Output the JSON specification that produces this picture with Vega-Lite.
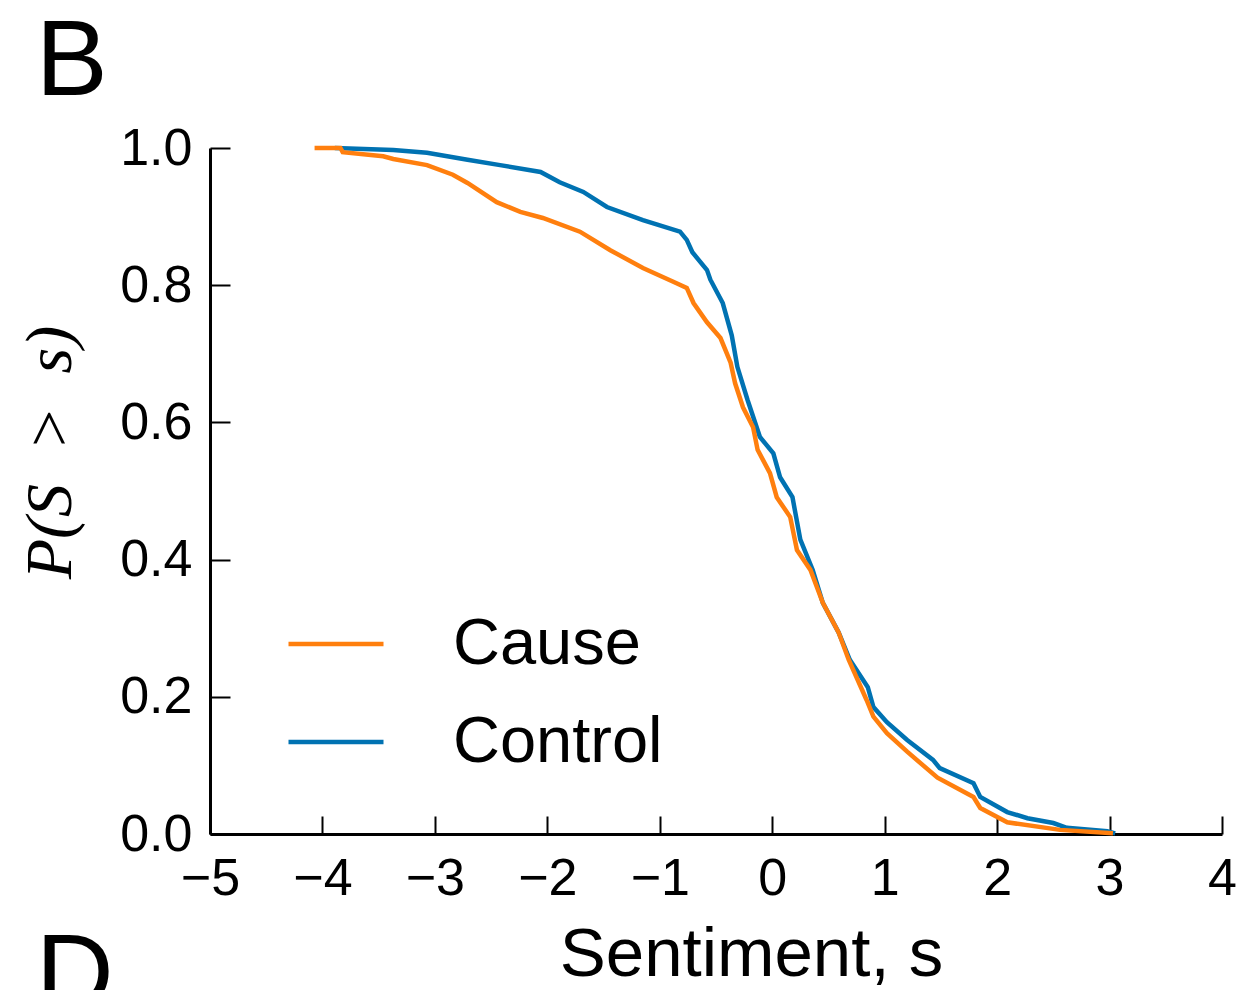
{
  "$schema": "https://vega.github.io/schema/vega-lite/v6.json",
  "autosize": {"type": "none"},
  "width": 1012,
  "height": 686,
  "padding": {"left": 210, "top": 148, "right": 19, "bottom": 156},
  "background": "white",
  "config": {
    "view": {"stroke": null},
    "axis": {"domainColor": "black", "domainWidth": 3, "tickColor": "black", "tickWidth": 2, "labelFont": "Liberation Sans", "labelFontSize": 52, "labelColor": "black", "labelFlush": false, "grid": false, "titleColor": "black", "titleFontWeight": "normal"}
  },
  "datasets": {
    "cdf": [
      {"group": "Cause", "s": -4.07, "p": 1.0},
      {"group": "Cause", "s": -3.84, "p": 1.0},
      {"group": "Cause", "s": -3.82, "p": 0.994},
      {"group": "Cause", "s": -3.46, "p": 0.988},
      {"group": "Cause", "s": -3.37, "p": 0.984},
      {"group": "Cause", "s": -3.07, "p": 0.975},
      {"group": "Cause", "s": -2.84, "p": 0.961},
      {"group": "Cause", "s": -2.71, "p": 0.949},
      {"group": "Cause", "s": -2.45, "p": 0.921},
      {"group": "Cause", "s": -2.24, "p": 0.907},
      {"group": "Cause", "s": -2.04, "p": 0.898},
      {"group": "Cause", "s": -1.71, "p": 0.878},
      {"group": "Cause", "s": -1.44, "p": 0.851},
      {"group": "Cause", "s": -1.15, "p": 0.825},
      {"group": "Cause", "s": -0.88, "p": 0.805},
      {"group": "Cause", "s": -0.76, "p": 0.796},
      {"group": "Cause", "s": -0.70, "p": 0.774},
      {"group": "Cause", "s": -0.58, "p": 0.746},
      {"group": "Cause", "s": -0.46, "p": 0.723},
      {"group": "Cause", "s": -0.37, "p": 0.687},
      {"group": "Cause", "s": -0.33, "p": 0.657},
      {"group": "Cause", "s": -0.26, "p": 0.622},
      {"group": "Cause", "s": -0.17, "p": 0.593},
      {"group": "Cause", "s": -0.13, "p": 0.560},
      {"group": "Cause", "s": -0.02, "p": 0.526},
      {"group": "Cause", "s": 0.04, "p": 0.491},
      {"group": "Cause", "s": 0.16, "p": 0.462},
      {"group": "Cause", "s": 0.22, "p": 0.414},
      {"group": "Cause", "s": 0.34, "p": 0.385},
      {"group": "Cause", "s": 0.45, "p": 0.337},
      {"group": "Cause", "s": 0.59, "p": 0.294},
      {"group": "Cause", "s": 0.68, "p": 0.254},
      {"group": "Cause", "s": 0.84, "p": 0.195},
      {"group": "Cause", "s": 0.90, "p": 0.171},
      {"group": "Cause", "s": 1.02, "p": 0.147},
      {"group": "Cause", "s": 1.20, "p": 0.120},
      {"group": "Cause", "s": 1.47, "p": 0.082},
      {"group": "Cause", "s": 1.79, "p": 0.054},
      {"group": "Cause", "s": 1.85, "p": 0.038},
      {"group": "Cause", "s": 2.09, "p": 0.017},
      {"group": "Cause", "s": 2.56, "p": 0.006},
      {"group": "Cause", "s": 3.03, "p": 0.001},
      {"group": "Control", "s": -3.89, "p": 1.0},
      {"group": "Control", "s": -3.37, "p": 0.997},
      {"group": "Control", "s": -3.07, "p": 0.993},
      {"group": "Control", "s": -2.71, "p": 0.983},
      {"group": "Control", "s": -2.42, "p": 0.975},
      {"group": "Control", "s": -2.06, "p": 0.965},
      {"group": "Control", "s": -1.89, "p": 0.950},
      {"group": "Control", "s": -1.68, "p": 0.936},
      {"group": "Control", "s": -1.47, "p": 0.914},
      {"group": "Control", "s": -1.15, "p": 0.895},
      {"group": "Control", "s": -0.82, "p": 0.878},
      {"group": "Control", "s": -0.76, "p": 0.866},
      {"group": "Control", "s": -0.71, "p": 0.848},
      {"group": "Control", "s": -0.58, "p": 0.822},
      {"group": "Control", "s": -0.55, "p": 0.808},
      {"group": "Control", "s": -0.44, "p": 0.774},
      {"group": "Control", "s": -0.36, "p": 0.727},
      {"group": "Control", "s": -0.31, "p": 0.681},
      {"group": "Control", "s": -0.22, "p": 0.633},
      {"group": "Control", "s": -0.11, "p": 0.579},
      {"group": "Control", "s": 0.01, "p": 0.555},
      {"group": "Control", "s": 0.07, "p": 0.520},
      {"group": "Control", "s": 0.18, "p": 0.491},
      {"group": "Control", "s": 0.25, "p": 0.429},
      {"group": "Control", "s": 0.36, "p": 0.385},
      {"group": "Control", "s": 0.45, "p": 0.337},
      {"group": "Control", "s": 0.59, "p": 0.294},
      {"group": "Control", "s": 0.69, "p": 0.254},
      {"group": "Control", "s": 0.85, "p": 0.214},
      {"group": "Control", "s": 0.90, "p": 0.185},
      {"group": "Control", "s": 1.02, "p": 0.163},
      {"group": "Control", "s": 1.20, "p": 0.137},
      {"group": "Control", "s": 1.43, "p": 0.108},
      {"group": "Control", "s": 1.49, "p": 0.096},
      {"group": "Control", "s": 1.79, "p": 0.074},
      {"group": "Control", "s": 1.85, "p": 0.054},
      {"group": "Control", "s": 2.09, "p": 0.032},
      {"group": "Control", "s": 2.27, "p": 0.023},
      {"group": "Control", "s": 2.50, "p": 0.016},
      {"group": "Control", "s": 2.62, "p": 0.009},
      {"group": "Control", "s": 2.98, "p": 0.004},
      {"group": "Control", "s": 3.05, "p": 0.001}
    ]
  },
  "layer": [
    {
      "data": {"name": "cdf"},
      "transform": [{"filter": "datum.group === 'Control'"}],
      "mark": {"type": "line", "strokeWidth": 4.5, "interpolate": "linear"},
      "encoding": {
        "x": {"field": "s", "type": "quantitative", "scale": {"domain": [-5, 4], "nice": false, "zero": false},
              "axis": {"values": [-5, -4, -3, -2, -1, 0, 1, 2, 3, 4], "format": "d", "tickSize": -18, "labelPadding": 37, "title": "Sentiment, s", "titleFont": "Liberation Sans", "titleFontSize": 69, "titleX": 541, "titleY": 141, "titleBaseline": "alphabetic", "titleAlign": "center"}},
        "y": {"field": "p", "type": "quantitative", "scale": {"domain": [0, 1], "nice": false},
              "axis": {"values": [0, 0.2, 0.4, 0.6, 0.8, 1.0], "format": ".1f", "tickSize": -20, "labelPadding": 38, "title": "P(S\u2002>\u2002s)", "titleFont": "Liberation Serif", "titleFontStyle": "italic", "titleFontSize": 66, "titleX": -160, "titleY": 304, "titleAngle": -90, "titleAlign": "center", "titleBaseline": "middle"}},
        "color": {"field": "group", "type": "nominal", "scale": {"domain": ["Cause", "Control"], "range": ["#ff7f0e", "#0072b2"]},
                  "legend": {"orient": "none", "legendX": 76, "legendY": 446, "title": null, "symbolType": "stroke", "symbolSize": 9025, "symbolStrokeWidth": 4.5, "labelFont": "Liberation Sans", "labelFontSize": 65, "labelColor": "black", "labelLimit": 500, "labelOffset": 67, "rowPadding": 15, "padding": 0}}
      }
    },
    {
      "data": {"name": "cdf"},
      "transform": [{"filter": "datum.group === 'Cause'"}],
      "mark": {"type": "line", "strokeWidth": 4.5, "interpolate": "linear"},
      "encoding": {
        "x": {"field": "s", "type": "quantitative"},
        "y": {"field": "p", "type": "quantitative"},
        "color": {"field": "group", "type": "nominal"}
      }
    },
    {
      "data": {"values": [{"label": "B"}]},
      "mark": {"type": "text", "fontSize": 108, "font": "Liberation Sans", "align": "left", "baseline": "alphabetic", "color": "black"},
      "encoding": {
        "x": {"datum": -6.55, "type": "quantitative"},
        "y": {"datum": 1.077, "type": "quantitative"},
        "text": {"field": "label"}
      }
    },
    {
      "data": {"values": [{"label": "D"}]},
      "mark": {"type": "text", "fontSize": 108, "font": "Liberation Sans", "align": "left", "baseline": "alphabetic", "color": "black"},
      "encoding": {
        "x": {"datum": -6.55, "type": "quantitative"},
        "y": {"datum": -0.255, "type": "quantitative"},
        "text": {"field": "label"}
      }
    }
  ]
}
